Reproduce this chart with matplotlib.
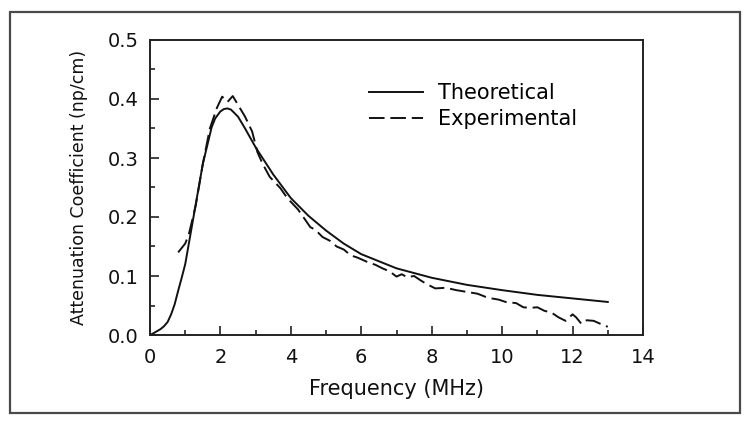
import matplotlib
matplotlib.use("Agg")
import matplotlib.pyplot as plt
from matplotlib.patches import Rectangle
from matplotlib.ticker import MultipleLocator, FormatStrFormatter

plt.rcParams['font.family'] = ['DejaVu Sans']

# Theoretical curve
theo_x = [0, 0.1, 0.3, 0.4, 0.5, 0.6, 0.7, 0.8, 0.9, 1.0, 1.25, 1.5, 1.75, 1.85,
          2.0, 2.1, 2.2, 2.3, 2.5, 2.7, 3.0, 3.5, 4.0, 4.5, 5.0, 5.5, 6.0, 7.0,
          8.0, 9.0, 10.0, 11.0, 12.0, 13.0]
theo_y = [0, 0.003, 0.01, 0.015, 0.022, 0.035, 0.052, 0.075, 0.097, 0.12, 0.205,
          0.29, 0.352, 0.367, 0.379, 0.383, 0.384, 0.382, 0.37, 0.35, 0.318,
          0.272, 0.232, 0.202, 0.177, 0.155, 0.137, 0.113, 0.097, 0.085, 0.076,
          0.068, 0.062, 0.056]

# Experimental curve
exp_x = [0.8, 1.0, 1.1, 1.3, 1.5, 1.7, 1.9, 2.05, 2.2, 2.35, 2.5, 2.7, 2.9, 3.05,
         3.2, 3.4, 3.7, 3.9, 4.2, 4.4, 4.55, 4.7, 4.9, 5.1, 5.3, 5.5, 5.7, 5.9,
         6.2, 6.4, 6.6, 6.8, 7.0, 7.15, 7.3, 7.5, 7.7, 7.9, 8.1, 8.4, 8.7, 9.0,
         9.3, 9.6, 9.9, 10.1, 10.4, 10.6, 10.8, 11.0, 11.2, 11.4, 11.6, 11.8,
         12.0, 12.1, 12.25, 12.4, 12.6, 12.75, 12.9, 13.0]
exp_y = [0.14, 0.155, 0.17, 0.22, 0.29, 0.35, 0.385, 0.404, 0.395, 0.405, 0.39,
         0.37, 0.345, 0.31, 0.29, 0.268, 0.249, 0.232, 0.213, 0.196, 0.183,
         0.178, 0.166, 0.160, 0.150, 0.145, 0.135, 0.131, 0.123, 0.119, 0.113,
         0.108, 0.099, 0.103, 0.098, 0.100, 0.092, 0.085, 0.079, 0.080, 0.076,
         0.073, 0.070, 0.063, 0.060, 0.056, 0.054, 0.047, 0.046, 0.047, 0.041,
         0.038, 0.030, 0.024, 0.035, 0.030, 0.019, 0.025, 0.024, 0.020, 0.016,
         0.014]

fig = plt.figure(figsize=(7.5, 4.23), dpi=100)
fig.patches.append(Rectangle((10/750, 1-413/423), 730/750, 401/423,
                             transform=fig.transFigure, fill=False,
                             edgecolor='#4a4a4a', linewidth=1.6))

ax = fig.add_axes([150/750, 1-335/423, 493/750, 295/423])
ax.plot(theo_x, theo_y, color='#111111', lw=1.4, label='Theoretical')
ax.plot(exp_x, exp_y, color='#111111', lw=1.4, dashes=(8, 3), label='Experimental')

ax.set_xlim(0, 14)
ax.set_ylim(0, 0.5)
ax.xaxis.set_major_locator(MultipleLocator(2))
ax.xaxis.set_minor_locator(MultipleLocator(1))
ax.yaxis.set_major_locator(MultipleLocator(0.1))
ax.yaxis.set_minor_locator(MultipleLocator(0.05))
ax.yaxis.set_major_formatter(FormatStrFormatter('%.1f'))
ax.tick_params(which='both', direction='in', top=False, right=False,
               labelsize=14, width=1.2, color='#222222', labelcolor='#111111')
ax.tick_params(which='major', length=6.5)
ax.tick_params(which='minor', length=3.5)
ax.tick_params(axis='y', which='major', pad=8)
ax.tick_params(axis='x', which='major', pad=9)
for s in ax.spines.values():
    s.set_linewidth(1.4)
    s.set_color('#222222')

ax.set_xlabel('Frequency (MHz)', fontsize=15, labelpad=9, color='#111111')
ax.set_ylabel('Attenuation Coefficient (np/cm)', fontsize=12.5, labelpad=14,
              color='#111111')

ax.legend(loc='upper left', bbox_to_anchor=(0.427, 0.883), frameon=False,
          fontsize=15, handlelength=2.6, handletextpad=0.7, labelspacing=0.3,
          borderaxespad=0)

fig.savefig('out.png', dpi=100)
